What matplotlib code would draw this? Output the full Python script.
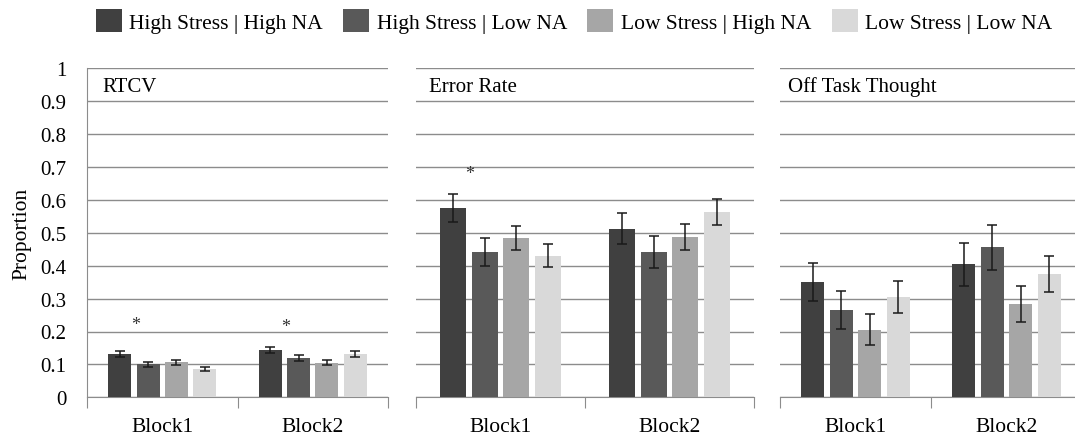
import numpy as np
import matplotlib
matplotlib.use("Agg")
import matplotlib.pyplot as plt
from matplotlib.patches import Patch

plt.rcParams['font.family'] = ['Liberation Serif', 'DejaVu Serif']

# データ
blocks = ["Block1", "Block2"]
groups = ["High Stress | High NA", "High Stress | Low NA",
          "Low Stress | High NA", "Low Stress | Low NA"]
colors = ["#404040", "#595959", "#a6a6a6", "#d9d9d9"]
panels = ["RTCV", "Error Rate", "Off Task Thought"]

# 平均値 [panel][group][block]
means = [
    [[0.133, 0.143], [0.100, 0.119], [0.106, 0.105], [0.086, 0.132]],
    [[0.575, 0.513], [0.442, 0.442], [0.485, 0.488], [0.430, 0.564]],
    [[0.350, 0.404], [0.266, 0.456], [0.206, 0.284], [0.305, 0.375]],
]
# 標準誤差
errs = [
    [[0.009, 0.009], [0.008, 0.009], [0.008, 0.008], [0.006, 0.008]],
    [[0.043, 0.048], [0.043, 0.049], [0.037, 0.039], [0.035, 0.040]],
    [[0.057, 0.066], [0.057, 0.068], [0.048, 0.055], [0.050, 0.056]],
]
# 有意差の * (panel, block, y)
stars = [(0, 0, 0.222), (0, 1, 0.214), (1, 0, 0.680)]

fig = plt.figure(figsize=(10.75, 4.39), dpi=100)
W, H = 1075, 439
# 各パネルの位置 (ピクセル: left, right)
px = [(87, 388), (416, 754), (780, 1082)]
top, bottom = 69.3, 398.3
title_dx = [15, 13, 8]

width = 0.153
step = 0.188
grid_c = "#8c8c8c"

axes = []
for i, (l, r) in enumerate(px):
    ax = fig.add_axes([l / W, 1 - bottom / H, (r - l) / W, (bottom - top) / H])
    axes.append(ax)
    x = np.arange(len(blocks))
    for g in range(len(groups)):
        ax.bar(x + (g - 1.5) * step, means[i][g], width, color=colors[g],
               yerr=errs[i][g], capsize=3.5, zorder=3,
               error_kw=dict(ecolor="#1a1a1a", elinewidth=1.1, capthick=1.1))
    ax.set_xlim(-0.5, 1.5)
    ax.set_ylim(0, 1)
    ax.set_yticks(np.arange(0, 1.01, 0.1))
    ax.yaxis.grid(True, color=grid_c, lw=1.0, zorder=0)
    ax.tick_params(axis='y', length=0, pad=15)
    if i == 0:
        ax.set_yticklabels(["0"] + ["%.1f" % v for v in np.arange(0.1, 0.95, 0.1)] + ["1"],
                           fontsize=15)
        ax.set_ylabel("Proportion", fontsize=15.5, labelpad=6)
        ax.spines['left'].set_color(grid_c)
    else:
        ax.set_yticklabels([])
        ax.spines['left'].set_visible(False)
    for s in ['top', 'right']:
        ax.spines[s].set_visible(False)
    ax.spines['bottom'].set_color(grid_c)
    # 区切りの目盛とラベル
    ax.set_xticks([-0.5, 0.5, 1.5])
    ax.set_xticklabels([])
    ax.tick_params(axis='x', which='major', direction='out', length=8, color=grid_c)
    ax.set_xticks(x, minor=True)
    ax.set_xticklabels(blocks, minor=True, fontsize=15.5)
    ax.tick_params(axis='x', which='minor', length=0, pad=14)
    ax.text(title_dx[i] / (r - l), 0.945, panels[i], transform=ax.transAxes,
            fontsize=15, va='center', ha='left')

for p, b, y in stars:
    axes[p].text(b - 0.18, y, "*", fontsize=13, ha='center', va='center', color="#333333")

handles = [Patch(facecolor=c) for c in colors]
fig.legend(handles, groups, loc='center', bbox_to_anchor=(574 / W, 1 - 22 / H), ncol=4,
           frameon=False, fontsize=15.5, handlelength=1.2, handleheight=1.25,
           handletextpad=0.35, columnspacing=0.95, borderpad=0)

fig.savefig("out.png", dpi=100)
